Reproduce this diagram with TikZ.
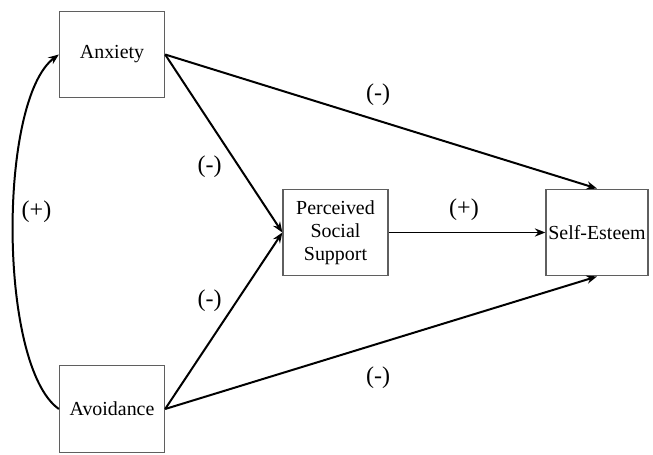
\documentclass[tikz,border=0pt]{standalone}
\usepackage{fontspec}
\setmainfont{Liberation Serif}
\usetikzlibrary{arrows.meta,positioning,calc}
\definecolor{boxgray}{RGB}{95,95,95}

\begin{document}
\begin{tikzpicture}[x=0.03cm,y=-0.03cm,
    var/.style={draw=boxgray,line width=1.1pt,fill=white,minimum width=3.15cm,
      minimum height=2.6cm,inner sep=0pt,align=center,
      font=\fontsize{17}{19.5}\selectfont},
    path/.style={line width=1.7pt,-{Stealth[length=9pt,width=7pt,inset=3pt]}},
    sign/.style={font=\fontsize{20.5}{24}\selectfont}]
  \useasboundingbox (0,0) rectangle (653,455);
  % variables
  \node[var] (anx) at (112,54.5) {Anxiety};
  \node[var] (avo) at (112,409) {Avoidance};
  \node[var] (pss) at (335.5,232.5) {Perceived\\Social\\Support};
  \node[var,minimum width=3.06cm] (se) at (597,232.5) {Self-Esteem};
  % paths
  \draw[path] (anx.east) -- (se.north);
  \draw[path] (anx.east) -- (pss.west);
  \draw[path] (avo.east) -- (pss.west);
  \draw[path] (avo.east) -- (se.south);
  \draw[path] (pss.east) -- (se.west);
  \draw[path,{Stealth[length=9pt,width=7pt,inset=3pt]}-] (anx.west)
    .. controls (-2,100) and (-2,366) .. (avo.west);
  % signs
  \node[sign] (s1) at (378,95) {(-)};
  \node[sign] (s2) at (209.5,167) {(-)};
  \node[sign] (s3) at (36.5,212) {(+)};
  \node[sign] (s4) at (464,210) {(+)};
  \node[sign] (s5) at (209.5,301) {(-)};
  \node[sign] (s6) at (378,378) {(-)};
\end{tikzpicture}
\end{document}
